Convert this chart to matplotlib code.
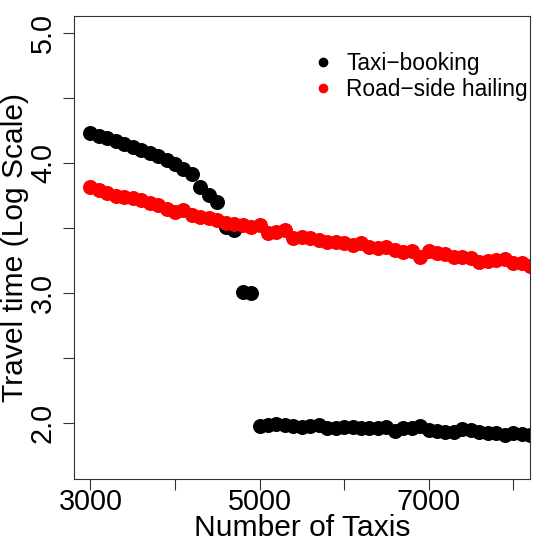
import numpy as np
import matplotlib
matplotlib.use("Agg")
from matplotlib import pyplot as plt

plt.rcParams['font.family'] = ['Liberation Sans', 'DejaVu Sans']

# number of taxis, 3000..8200 in steps of 100
taxis = list(range(3000, 8300, 100))

booking = [4.227, 4.204, 4.188, 4.165, 4.142, 4.119, 4.096, 4.073, 4.05, 4.019,
           3.988, 3.95, 3.912, 3.812, 3.75, 3.696, 3.504, 3.481, 3.004, 2.996,
           1.972, 1.985, 1.992, 1.985, 1.977, 1.969, 1.977, 1.985, 1.962, 1.962,
           1.969, 1.969, 1.962, 1.962, 1.962, 1.969, 1.938, 1.962, 1.962, 1.977,
           1.946, 1.938, 1.931, 1.931, 1.954, 1.946, 1.931, 1.923, 1.923, 1.908,
           1.923, 1.915, 1.908]

hailing = [3.812, 3.788, 3.765, 3.742, 3.735, 3.727, 3.712, 3.688, 3.673, 3.642,
           3.619, 3.635, 3.596, 3.581, 3.573, 3.558, 3.535, 3.527, 3.519, 3.504,
           3.519, 3.458, 3.465, 3.481, 3.419, 3.427, 3.419, 3.404, 3.388, 3.388,
           3.381, 3.365, 3.381, 3.35, 3.342, 3.35, 3.327, 3.312, 3.319, 3.273,
           3.319, 3.304, 3.296, 3.273, 3.273, 3.265, 3.235, 3.242, 3.25, 3.258,
           3.227, 3.227, 3.204]

xticks = [3000, 4000, 5000, 6000, 7000, 8000]
xlabels = ['3000', '', '5000', '', '7000', '']
yticks = [2.0, 2.5, 3.0, 3.5, 4.0, 4.5, 5.0]
ylabels = ['2.0', '', '3.0', '', '4.0', '', '5.0']

fig = plt.figure(figsize=(5.45, 5.44), dpi=100)
ax = fig.add_axes([0.135, 0.1195, 0.8375, 0.852])

ax.plot(taxis, booking, 'o', color='black', markersize=10.8, markeredgewidth=0,
        label='Taxi\u2212booking')
ax.plot(taxis, hailing, 'o', color='red', markersize=10.8, markeredgewidth=0,
        label='Road\u2212side hailing')

# R style: data limits extended by 4%
ax.set_xlim(3000 - 0.04 * 5000, 8000 + 0.04 * 5000)
ax.set_ylim(1.7 - 0.04 * 3.3, 5.0 + 0.04 * 3.3)

ax.set_xticks(xticks)
ax.set_xticklabels(xlabels, fontsize=20.7)
ax.set_yticks(yticks)
ax.set_yticklabels(ylabels, fontsize=20.7, rotation=90, va='center')
ax.tick_params(direction='out', length=8, width=0.8, color='#333333')
ax.tick_params(axis='x', pad=-1.5)
ax.tick_params(axis='y', pad=4)

for s in ax.spines.values():
    s.set_linewidth(0.8)
    s.set_color('#333333')

ax.set_xlabel('Number of Taxis', fontsize=21.6)
ax.set_ylabel('Travel time (Log Scale)', fontsize=21.6)
ax.xaxis.set_label_coords(0.5, -0.106)
ax.yaxis.set_label_coords(-0.128, 0.5)
ax.xaxis.label.set_va('center')
ax.yaxis.label.set_va('center')

ax.legend(loc='upper left', bbox_to_anchor=(0.5225, 0.922), frameon=False,
          fontsize=16.4, markerscale=0.65, handlelength=1.0, handletextpad=0.5,
          borderaxespad=0, borderpad=0, labelspacing=0.15)

fig.savefig('out.png', dpi=100)
